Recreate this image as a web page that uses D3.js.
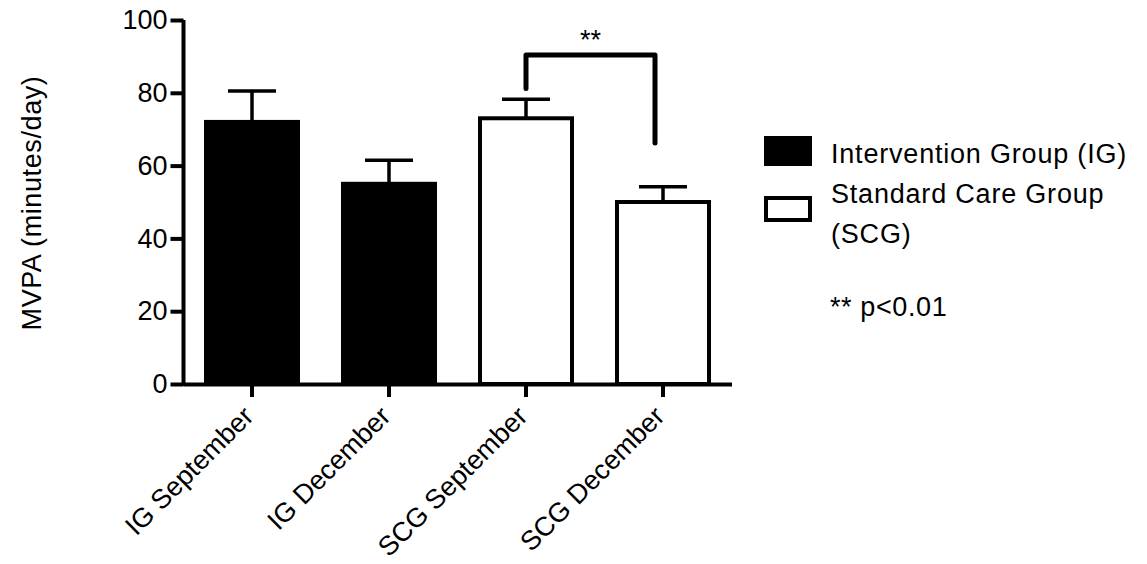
<!DOCTYPE html>
<html lang="en">

<head>
    <meta charset="utf-8">
    <title>MVPA by group</title>
    <script type="text/javascript" src="https://d3js.org/d3.v7.min.js"></script>
    <style type="text/css">
        body { margin: 0; background: #fff; }
        text { font-family: "Liberation Sans", Arial, Helvetica, sans-serif; fill: #000; }
    </style>
</head>

<body>
    <script type="text/javascript">
        //Chart values
        const categories = ['IG September', 'IG December', 'SCG September', 'SCG December'];
        const groups = ['IG', 'IG', 'SCG', 'SCG'];
        const means = [72, 55, 73, 50];
        const sems = [8.5, 6.5, 5.2, 4.2];
        const yTicks = [0, 20, 40, 60, 80, 100];
        const legendLabels = [['Intervention Group (IG)'], ['Standard Care Group', '(SCG)']];
        //significance bracket: [top, left leg end, right leg end]
        const bracketPair = ['SCG September', 'SCG December'];
        const bracketLevels = [90.4, 81.2, 66.2];
        const sigLabel = '**';
        const sigNote = '** p<0.01';

        const data = categories.map((c, i) => ({ cat: c, group: groups[i], mean: means[i], sem: sems[i] }));

        const canvasWidth = 1147;
        const canvasHeight = 564;
        const fontSize = 27;

        const xScale = d3.scaleBand()
            .domain(categories)
            .range([183.5, 731.5])
            .paddingInner(0.3285)
            .paddingOuter(0.1642);

        const yScale = d3.scaleLinear()
            .domain([0, 100])
            .range([384, 20]);

        const fillFor = g => g === 'IG' ? '#000' : '#fff';
        const mid = c => xScale(c) + xScale.bandwidth() / 2;

        const svg = d3.select('body')
            .append('svg')
            .attr('width', canvasWidth)
            .attr('height', canvasHeight);

        //Bars
        svg.append('g')
            .attr('class', 'bars')
            .selectAll('rect')
            .data(data)
            .enter()
            .append('rect')
            .attr('x', d => xScale(d.cat))
            .attr('y', d => yScale(d.mean))
            .attr('width', xScale.bandwidth())
            .attr('height', d => yScale(0) - yScale(d.mean))
            .attr('fill', d => fillFor(d.group))
            .attr('stroke', '#000')
            .attr('stroke-width', 4);

        //Error bars (upper only)
        const errs = svg.append('g').attr('class', 'errors')
            .attr('stroke', '#000').attr('stroke-width', 3.5);
        errs.selectAll('line.stem')
            .data(data)
            .enter()
            .append('line')
            .attr('class', 'stem')
            .attr('x1', d => mid(d.cat))
            .attr('x2', d => mid(d.cat))
            .attr('y1', d => yScale(d.mean))
            .attr('y2', d => yScale(d.mean + d.sem));
        errs.selectAll('line.cap')
            .data(data)
            .enter()
            .append('line')
            .attr('class', 'cap')
            .attr('x1', d => mid(d.cat) - 24)
            .attr('x2', d => mid(d.cat) + 24)
            .attr('y1', d => yScale(d.mean + d.sem))
            .attr('y2', d => yScale(d.mean + d.sem));

        //Axes
        const leftAxis = d3.axisLeft(yScale)
            .tickValues(yTicks)
            .tickSize(13)
            .tickSizeOuter(0)
            .tickPadding(3);

        const bottomAxis = d3.axisBottom(xScale)
            .tickSize(13)
            .tickSizeOuter(0)
            .tickFormat('');

        const yAxisG = svg.append('g')
            .attr('transform', 'translate(183.5,0)')
            .call(leftAxis);
        yAxisG.selectAll('text')
            .attr('font-size', fontSize)
            .attr('font-family', null);

        const xAxisG = svg.append('g')
            .attr('transform', 'translate(0,384)')
            .call(bottomAxis);

        [yAxisG, xAxisG].forEach(g => {
            g.select('.domain').attr('stroke-width', 4).attr('stroke', '#000');
            g.selectAll('.tick line').attr('stroke-width', 4).attr('stroke', '#000');
        });
        yAxisG.select('.domain').attr('d', 'M0,' + yScale(100) + 'V' + (yScale(0) + 2));

        //Rotated category labels
        svg.append('g')
            .selectAll('text')
            .data(categories)
            .enter()
            .append('text')
            .attr('text-anchor', 'end')
            .attr('font-size', fontSize)
            .attr('transform', d => 'translate(' + (mid(d) + 3) + ',' + 418 + ') rotate(-45)')
            .text(d => d);

        //Y axis title
        svg.append('text')
            .attr('text-anchor', 'middle')
            .attr('transform', 'rotate(-90)')
            .attr('x', -203)
            .attr('y', 41)
            .attr('font-size', fontSize)
            .attr('letter-spacing', 0.6)
            .text('MVPA (minutes/day)');

        //Significance bracket
        const bx1 = mid(bracketPair[0]);
        const bx2 = mid(bracketPair[1]) - 8;
        svg.append('path')
            .attr('d', 'M' + bx1 + ',' + yScale(bracketLevels[1]) +
                'V' + yScale(bracketLevels[0]) +
                'H' + bx2 +
                'V' + yScale(bracketLevels[2]))
            .attr('fill', 'none')
            .attr('stroke', '#000')
            .attr('stroke-width', 5)
            .attr('stroke-linecap', 'round')
            .attr('stroke-linejoin', 'round');
        svg.append('text')
            .attr('text-anchor', 'middle')
            .attr('x', (bx1 + bx2) / 2)
            .attr('y', 49)
            .attr('font-size', fontSize)
            .text(sigLabel);

        //Legend
        const legend = svg.append('g').attr('class', 'legend');
        const swatchY = [138, 198];
        const swatchH = [26, 22];
        const lineBase = [[163.3], [203.3, 242.7]];
        legendLabels.forEach((lines, i) => {
            legend.append('rect')
                .attr('x', 766)
                .attr('y', swatchY[i])
                .attr('width', 44)
                .attr('height', swatchH[i])
                .attr('fill', i === 0 ? '#000' : '#fff')
                .attr('stroke', '#000')
                .attr('stroke-width', 4);
            lines.forEach((t, j) => {
                legend.append('text')
                    .attr('x', 831)
                    .attr('y', lineBase[i][j])
                    .attr('font-size', fontSize)
                    .attr('letter-spacing', 0.8)
                    .text(t);
            });
        });
        legend.append('text')
            .attr('x', 830)
            .attr('y', 316)
            .attr('font-size', fontSize)
            .attr('letter-spacing', 0.6)
            .text(sigNote);
    </script>
</body>

</html>
